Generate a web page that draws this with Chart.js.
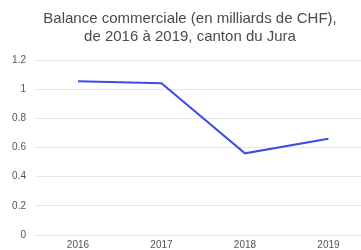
<!DOCTYPE html>
<html>
<head>
<meta charset="utf-8">
<script src="https://cdn.jsdelivr.net/npm/chart.js@4"></script>
<style>
html,body{margin:0;padding:0;background:#fff;}
#wrap{width:361px;height:250px;}
</style>
</head>
<body>
<div id="wrap"><canvas id="c" width="361" height="250"></canvas></div>
<script>
const years = [2016, 2017, 2018, 2019];
const balance = [1.055, 1.04, 0.56, 0.66];
const yTicks = [0, 0.2, 0.4, 0.6, 0.8, 1, 1.2];
const titleLines = ["Balance commerciale (en milliards de CHF),", "de 2016 à 2019, canton du Jura"];

const FONT = "'Liberation Sans', Arial, Helvetica, sans-serif";
const shiftTitle = {
  id: 'shiftTitle',
  afterLayout(chart) {
    if (chart.titleBlock) { chart.titleBlock.left = 19; }
  }
};
new Chart(document.getElementById('c'), {
  type: 'line',
  data: {
    datasets: [{
      data: years.map((y, i) => ({x: y, y: balance[i]})),
      borderColor: '#3c4fe2',
      borderWidth: 2,
      pointRadius: 0,
      tension: 0,
      fill: false
    }]
  },
  plugins: [shiftTitle],
  options: {
    responsive: false,
    animation: false,
    layout: {padding: {left: 0, right: 0, top: 0, bottom: 0}},
    plugins: {
      legend: {display: false},
      tooltip: {enabled: false},
      title: {
        display: true,
        text: titleLines,
        color: '#4a4a4a',
        font: {family: FONT, size: 15, weight: 'normal', lineHeight: 1.2},
        padding: {top: 10, bottom: 14}
      }
    },
    scales: {
      x: {
        type: 'linear',
        min: years[0] - 0.515,
        max: years[years.length - 1] + 0.39,
        grid: {display: false, drawTicks: false, tickLength: 0},
        border: {display: false},
        ticks: {
          stepSize: 1,
          includeBounds: false,
          autoSkip: false,
          maxRotation: 0,
          color: '#555',
          padding: 4,
          font: {family: FONT, size: 10},
          callback: v => String(v)
        },
        afterFit: s => { s.height = 14; }
      },
      y: {
        min: yTicks[0],
        max: yTicks[yTicks.length - 1],
        grid: {color: '#e6e6e6', lineWidth: 1, drawTicks: false},
        border: {display: false},
        ticks: {
          stepSize: 0.2,
          color: '#555',
          padding: 9,
          font: {family: FONT, size: 10},
          callback: v => String(Math.round(v * 10) / 10)
        },
        afterFit: s => { s.width = 35; }
      }
    }
  }
});
</script>
</body>
</html>
